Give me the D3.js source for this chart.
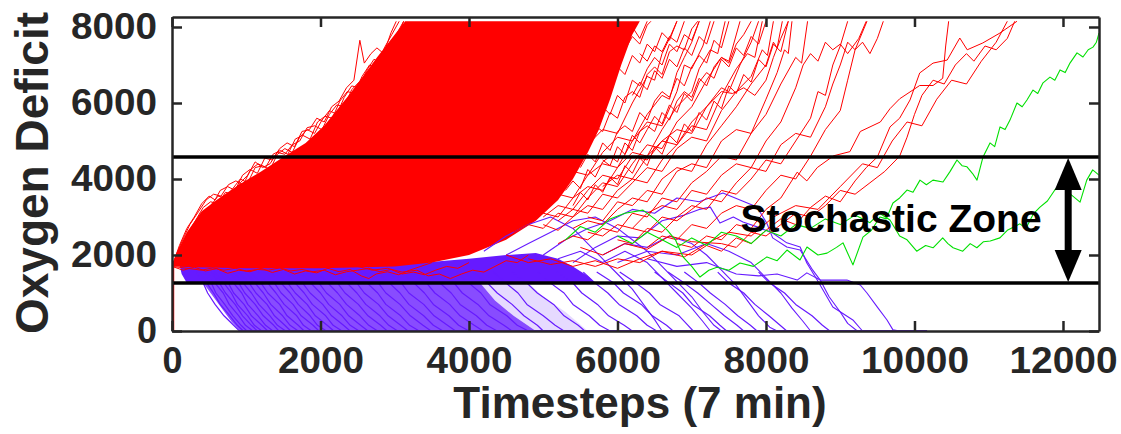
<!DOCTYPE html>
<html>
<head>
<meta charset="utf-8">
<script src="https://cdn.jsdelivr.net/npm/d3@7"></script>
<style>
  body { margin: 0; background: #fff; }
  svg { display: block; }
</style>
</head>
<body>
<svg id="chart" width="1121" height="434"></svg>
<script>
// ---- axis setup values ----
var xTicks = [0, 2000, 4000, 6000, 8000, 10000, 12000];
var yTicks = [0, 2000, 4000, 6000, 8000];
var zoneBounds = [4580, 1260];   // black threshold lines
var arrowT = 12070;              // timestep where the double arrow sits

// ---- red trajectories (hypoxic runaway) ----
// dense body of the red bundle, outline as [t, deficit]
var redCore = [[0,1700],[60,2050],[200,2600],[400,3150],[600,3450],[900,3850],[1200,4200],[1500,4580],[1800,4950],[2050,5400],[2400,6250],[2760,7200],[3140,8150],
  [6300,8150],[6200,7800],[6050,7000],[5900,6100],[5750,5300],[5600,4700],[5400,4000],[5200,3450],[4900,2900],[4500,2400],[4000,2000],[3500,1800],[3000,1700],[2000,1650],[1000,1650],[300,1680]];
var redStart = [[20,0],[20,1700]];
// strands on the upper edge of the bundle
var redUpper = [
  [[0,1700],[100,2250],[200,2700],[300,3000],[400,3350],[500,3550],[580,3450],[650,3700],[750,3800],[850,3700],[950,4100],[1050,4250],[1150,4150],[1250,4550],[1350,4500],[1450,4800],[1550,4950],[1650,4850],[1750,5250],[1850,5300],[1950,5600],[2050,5500],[2150,5900],[2250,6050],[2350,6400],[2450,6600],[2530,7650],[2590,7050],[2680,7300],[2760,7450],[2850,7300],[2950,7850],[3020,8150]],
  [[0,1700],[120,2300],[240,2800],[360,3150],[460,3450],[560,3600],[660,3550],[760,3850],[860,3950],[960,3850],[1060,4250],[1160,4400],[1260,4300],[1360,4650],[1460,4750],[1560,4650],[1660,5050],[1760,5150],[1860,5050],[1960,5500],[2060,5650],[2160,5600],[2260,6050],[2360,6300],[2460,6250],[2560,6700],[2660,7000],[2760,6900],[2860,7450],[2960,7800],[3060,8150]],
  [[0,1750],[150,2200],[280,2600],[400,2900],[520,3300],[620,3550],[720,3500],[820,3750],[920,4000],[1020,3900],[1120,4300],[1220,4350],[1320,4250],[1420,4650],[1520,4800],[1620,4700],[1720,5100],[1820,5300],[1920,5200],[2020,5550],[2120,5800],[2220,5700],[2320,6150],[2420,6450],[2520,6400],[2620,6850],[2720,7150],[2820,7050],[2920,7550],[3020,7800],[3120,8150]],
  [[0,1700],[80,2000],[180,2450],[300,2850],[420,3250],[520,3400],[620,3350],[720,3650],[820,3600],[920,3900],[1020,4100],[1120,4450],[1220,4300],[1320,4400],[1420,4700],[1520,4650],[1620,4900],[1720,5000],[1820,5350],[1920,5400],[2020,5300],[2120,5700],[2220,5950],[2320,5900],[2420,6350],[2520,6550],[2620,6500],[2720,6950],[2820,7300],[2920,7250],[3020,7650],[3120,8150]]
];
// strands on the lower edge of the bundle
var redLower = [
  [[0,1700],[150,1600],[300,1680],[450,1580],[600,1640],[750,1520],[900,1600],[1050,1560],[1200,1650],[1350,1540],[1500,1620],[1650,1500],[1800,1580],[1950,1530],[2100,1650],[2250,1560],[2400,1620],[2550,1450],[2650,1380],[2750,1500],[2900,1560],[3050,1480],[3200,1600],[3350,1700],[3500,1800]],
  [[0,1700],[200,1650],[400,1600],[550,1660],[700,1600],[850,1650],[1000,1580],[1150,1620],[1300,1600],[1450,1660],[1600,1580],[1750,1620],[1900,1560],[2050,1600],[2200,1480],[2350,1560],[2500,1600],[2650,1650],[2800,1560],[2950,1620],[3100,1500],[3250,1550],[3400,1480],[3550,1600],[3700,1700],[3850,1650],[4000,1800]],
  [[2500,1700],[2700,1600],[2900,1650],[3100,1550],[3300,1600],[3450,1450],[3600,1500],[3750,1380],[3900,1500],[4050,1600],[4200,1550],[4350,1700],[4500,1850],[4650,1800],[4800,2000]]
];
// strands fraying off the right edge of the bundle
var redFray = [
  [[5600,5000],[5700,5400],[5800,5250],[5900,5750],[6000,5600],[6100,6150],[6200,6300],[6300,6150],[6400,6750],[6500,6950],[6600,6750],[6700,7350],[6800,7500],[6900,7400],[7000,7950],[7080,8150]],
  [[5900,6500],[6000,6950],[6100,6750],[6200,7250],[6300,7050],[6400,7550],[6500,7350],[6600,7850],[6700,7650],[6800,8150]],
  [[5500,4300],[5600,4650],[5700,4450],[5800,4950],[5900,4750],[6000,5250],[6100,5400],[6200,5250],[6300,5750],[6400,5550],[6500,6050],[6600,6300],[6700,6150],[6800,6650],[6900,6450],[7000,6950],[7100,7250],[7200,7050],[7300,7650],[7400,7450],[7500,8150]],
  [[5300,3700],[5400,3950],[5500,3750],[5600,4250],[5700,4050],[5800,4450],[5900,4600],[6000,4450],[6100,4950],[6200,4750],[6300,5250],[6400,5400],[6500,5250],[6600,5750],[6700,5550],[6800,6050],[6900,6300],[7000,6150],[7100,6650],[7200,6450],[7300,6950],[7400,7200],[7500,7050],[7600,7550],[7700,7800],[7800,8150]],
  [[6100,7400],[6200,7750],[6300,7550],[6400,8050],[6450,8150]],
  [[5800,4500],[5900,4350],[6000,4850],[6100,4650],[6200,5150],[6300,4950],[6400,5300],[6500,5650],[6600,5450],[6700,5950],[6800,5750],[6900,6250],[7000,6050],[7100,6550],[7200,6800],[7300,6650],[7400,7150],[7500,6950],[7600,7450],[7700,7250],[7800,7750],[7900,7550],[8000,8150]],
  [[6200,6200],[6300,6550],[6400,6350],[6500,6850],[6600,6650],[6700,7150],[6800,6950],[6900,7450],[7000,7250],[7100,7750],[7200,7550],[7300,8150]],
  [[5400,3300],[5500,3650],[5600,3450],[5700,3850],[5800,3650],[5900,4050],[6000,3850],[6100,4350],[6200,4150],[6300,4550],[6400,4350],[6500,4850],[6600,4650],[6700,5150],[6800,4950],[6900,5450],[7000,5250],[7100,5750],[7200,5550],[7300,6050],[7400,5850],[7500,6450],[7600,6250],[7700,6750],[7800,6550],[7900,7150],[8000,6950],[8100,7550],[8200,7350],[8300,8150]],
  [[6000,7800],[6100,7600],[6200,8000],[6300,7700],[6400,8150]],
  [[6300,7300],[6400,7100],[6500,7500],[6600,7350],[6700,7750],[6800,7600],[6900,8150]],
  [[5700,5600],[5800,5900],[5900,5700],[6000,6200],[6100,6000],[6200,6600],[6300,6450],[6400,6900],[6500,7200],[6600,7000],[6700,7550],[6800,7350],[6900,7800],[7000,7650],[7100,8150]]
];
// strands fanning out further right
var redFan = [
  [[4400,3300],[4600,3700],[4800,3600],[5000,4100],[5200,4400],[5400,4300],[5600,4900],[5800,5300],[6000,5200],[6200,6000],[6400,6700],[6500,6600],[6600,7300],[6700,7700],[6800,8150]],
  [[4600,3200],[4800,3500],[5000,3400],[5200,3900],[5400,4200],[5600,4100],[5800,4700],[6000,5100],[6200,5000],[6400,5700],[6600,6200],[6700,6100],[6800,6800],[6900,7200],[7000,7600],[7100,8150]],
  [[5000,3300],[5200,3600],[5400,3500],[5600,4100],[5800,4400],[6000,4300],[6200,5000],[6400,5500],[6600,5400],[6800,6300],[6900,7000],[7000,6900],[7150,7500],[7250,8150]],
  [[4800,2900],[5000,3100],[5200,3000],[5400,3500],[5600,3800],[5800,3700],[6000,4300],[6200,4700],[6400,4600],[6600,5300],[6800,5900],[7000,6300],[7100,6900],[7250,7400],[7350,7300],[7450,8150]],
  [[4600,2600],[4800,2800],[5000,2700],[5200,3100],[5400,3000],[5600,3500],[5800,3900],[6000,3800],[6200,4400],[6400,4900],[6600,4800],[6800,5500],[7000,5900],[7200,6600],[7400,7200],[7500,7100],[7650,8150]],
  [[5000,3000],[5200,3300],[5400,3200],[5600,3700],[5800,4100],[6000,4000],[6200,4600],[6400,4500],[6600,5000],[6800,5300],[7000,5200],[7200,5900],[7400,6400],[7500,6300],[7650,7000],[7800,7600],[7900,8150]],
  [[5000,2800],[5200,2650],[5400,3000],[5600,3300],[5800,3200],[6000,3700],[6200,4000],[6400,3900],[6600,4500],[6800,4900],[7000,5400],[7200,5300],[7400,6200],[7600,6900],[7750,7300],[7850,7200],[7950,8150]],
  [[5200,2900],[5400,3200],[5600,3100],[5800,3600],[6000,3500],[6200,3900],[6400,4300],[6600,4200],[6800,4800],[7000,5100],[7200,5000],[7400,5800],[7600,6300],[7800,6700],[7950,7400],[8020,7250],[8100,8150]],
  [[5400,2700],[5600,2900],[5800,2800],[6000,3200],[6200,3500],[6400,3400],[6600,4000],[6800,4300],[7000,4200],[7200,4900],[7400,5400],[7600,5900],[7800,6500],[8000,7000],[8100,7600],[8150,7450],[8220,8150]],
  [[5800,3800],[6000,4100],[6200,4000],[6400,4600],[6600,5000],[6800,4900],[7000,5500],[7200,5900],[7400,6300],[7550,6250],[7700,6400],[7850,6200],[8000,6600],[8100,7200],[8200,7700],[8300,8150]],
  [[5600,3000],[5800,2900],[6000,3400],[6200,3300],[6400,3700],[6600,3600],[6800,4200],[7000,4400],[7200,4300],[7400,5000],[7600,5300],[7800,5200],[8000,6100],[8150,6800],[8250,7400],[8300,7300],[8350,8150]],
  [[5200,2300],[5400,2500],[5600,2400],[5800,2700],[6000,2600],[6200,3100],[6400,3000],[6600,3500],[6800,3400],[7000,3900],[7200,4200],[7400,4600],[7600,4500],[7800,5200],[8000,5700],[8200,6500],[8400,7200],[8480,7050],[8560,8150]],
  [[5600,2600],[5800,2500],[6000,2800],[6200,2700],[6400,3100],[6600,3300],[6800,3200],[7000,3700],[7200,3600],[7400,4100],[7600,4400],[7800,4300],[8000,5000],[8200,5500],[8400,6400],[8500,7000],[8600,7300],[8700,7100],[8800,7600],[8900,7400],[9000,7550],[9100,7300],[9250,7700],[9350,8150]],
  [[6000,2400],[6200,2300],[6400,2700],[6600,2600],[6800,3000],[7000,3300],[7200,3200],[7400,3700],[7600,3600],[7800,4000],[8000,4500],[8200,4400],[8400,5000],[8600,5600],[8700,6300],[8800,6200],[8900,7000],[9000,7500],[9100,8150]],
  [[6200,2700],[6400,2600],[6600,3000],[6800,2900],[7000,3200],[7200,3500],[7400,3400],[7600,3900],[7800,4300],[8000,4200],[8200,4900],[8400,5200],[8600,5100],[8800,5900],[8900,6500],[9000,7000],[9100,7600],[9200,7400],[9360,8150]],
  [[6400,2200],[6600,2500],[6800,2400],[7000,2800],[7200,2700],[7400,3100],[7600,3300],[7800,3200],[8000,3700],[8200,4100],[8400,4000],[8600,4600],[8800,5300],[9000,5800],[9100,6600],[9200,7400],[9300,7600],[9400,7300],[9500,7700],[9580,8150]],
  [[6800,2300],[7000,2200],[7200,2500],[7400,2400],[7600,2800],[7800,2700],[8000,3200],[8200,3500],[8420,4180],[8550,3950],[8690,4300],[8910,4610],[9130,4720],[9270,5250],[9540,5500],[9670,5850],[9800,6110],[10070,6460],[10250,6460],[10380,6650],[10420,7500],[10460,8150]],
  [[4800,1900],[5100,1750],[5400,1850],[5700,1700],[6000,1900],[6300,1800],[6600,2100],[7000,2000],[7200,2250],[7400,2100],[7600,2450],[7800,2300],[8000,2650],[8200,2950],[8400,2800],[8600,3250],[8800,3550],[9000,3400],[9200,3950],[9350,4300],[9500,4580],[9670,5370],[9800,5600],[9940,6080],[10070,6790],[10250,7050],[10440,7130],[10610,7710],[10710,7400],[10920,7580],[11150,7840],[11380,8150]],
  [[5500,2200],[5800,2000],[6100,2300],[6400,2150],[6700,2500],[7000,2350],[7400,2300],[7600,2200],[7800,2600],[8000,2500],[8200,2800],[8400,3100],[8600,3000],[8800,3300],[9000,3700],[9200,3600],[9400,3900],[9600,4200],[9800,4600],[9900,5100],[10000,5700],[10100,6200],[10250,6600],[10400,6500],[10550,7000],[10700,7300],[10800,7100],[10950,7500],[11100,7400],[11250,7700],[11350,8150]],
  [[4500,2000],[4800,1800],[5100,1900],[5400,1700],[5700,1850],[6000,1650],[6300,1900],[6600,2100],[6900,1950],[7200,2300],[7500,2600],[7800,2500],[8100,3000],[8400,3300],[8700,3200],[9000,3800],[9300,4400],[9500,4300],[9700,5000],[9900,5500],[10100,5400],[10300,6100],[10500,6600],[10700,6500],[10900,7100],[11100,7600],[11250,8150]]
];

// ---- blue trajectories (recovery to zero) ----
var blueBand = [[100,1750],[600,1750],[1200,1720],[2000,1720],[2800,1750],[3400,1800],[4000,1900],[4500,2000],[4900,2050],[5200,1900],[5400,1700],[5600,1450],[5700,1260],[200,1260],[130,1500]];
var blueDense = [[420,1260],[500,1050],[650,650],[800,250],[920,0],[4900,0],[4600,400],[4350,800],[4150,1260]];
var blueFringe = [[4150,1260],[4350,800],[4600,400],[4900,0],[5600,0],[5300,500],[5000,900],[4800,1260]];
var blueFloor = [[900,0],[10170,0]];
// each drop: timestep at which the run passes these deficit levels
var blueLevels = [1550, 1260, 1000, 700, 400, 150, 0];
var blueDrops = [
  [330,420,480,580,700,830,910],[380,470,560,650,780,880,960],[430,530,590,710,820,930,1010],
  [470,580,690,770,900,990,1090],[530,640,720,850,950,1070,1150],[570,700,800,880,1020,1110,1210],
  [640,760,830,970,1070,1210,1290],[690,830,940,1020,1160,1260,1360],[770,900,980,1120,1230,1370,1440],
  [830,960,1070,1170,1320,1420,1530],[900,1040,1130,1280,1380,1520,1600],[990,1120,1230,1330,1490,1590,1700],
  [1050,1200,1290,1450,1550,1700,1780],[1160,1290,1400,1510,1680,1770,1880],[1230,1380,1470,1630,1740,1900,1980],
  [1340,1470,1590,1700,1860,1960,2080],[1410,1560,1660,1820,1930,2090,2180],[1530,1660,1780,1890,2070,2170,2290],
  [1610,1760,1860,2030,2150,2310,2400],[1730,1870,2000,2110,2290,2400,2520],[1820,1980,2080,2260,2380,2540,2640],
  [1960,2100,2230,2350,2530,2650,2770],[2070,2230,2330,2510,2640,2810,2900],[2210,2360,2490,2610,2800,2920,3040],
  [2320,2490,2590,2780,2910,3080,3180],[2480,2630,2770,2880,3080,3200,3330],[2600,2780,2880,3070,3210,3380,3490],
  [2770,2930,3070,3190,3390,3520,3650],[2910,3090,3190,3390,3530,3710,3820],[3090,3260,3400,3520,3730,3860,4000],
  [3240,3430,3540,3740,3880,4070,4190],[3440,3610,3760,3880,4100,4240,4380],[3610,3800,3910,4120,4270,4470,4580],
  [3830,4000,4160,4280,4510,4650,4800],
  [4050,4250,4380,4580,4740,4920,5000],[4330,4500,4660,4780,5000,5160,5280],[4580,4780,4920,5140,5280,5470,5560],
  [4930,5100,5280,5400,5620,5760,5900],[5180,5400,5520,5730,5880,6090,6200],[5540,5700,5870,6020,6260,6400,6530],
  [5720,5950,6080,6320,6470,6660,6750],[6030,6250,6430,6570,6830,6950,7020],[6500,6700,6880,7010,7240,7380,7470],
  [6680,6900,7080,7260,7440,7610,7700],[6900,7100,7250,7450,7620,7790,7880],[7350,7500,7700,7850,8040,8190,8280],
  [7900,8050,8250,8400,8620,8760,8860]
];
// blue runs that wander into the stochastic zone before recovering
var blueZone = [
  [[5400,1800],[5700,2200],[6000,2500],[6300,2450],[6600,2900],[6900,3050],[7100,3200],[7250,3260],[7380,2840],[7560,3000],[7690,2870],[7880,2740],[8090,2580],[8280,2320],[8460,2210],[8550,1790],[8690,1340],[8900,630],[9170,290],[9300,0]],
  [[5000,2000],[5300,2400],[5600,2700],[5900,2900],[6200,3200],[6500,3100],[6800,3500],[7100,3400],[7420,3630],[7650,3450],[7880,3260],[8010,2840],[8090,2450],[8280,2210],[8460,2130],[8630,1600],[8730,1340],[8850,900],[9000,500],[9100,200],[9230,0]],
  [[6400,1900],[6800,1700],[7200,1800],[7600,1500],[7900,1450],[8150,1500],[8420,1340],[8550,1530],[8730,1340],[8900,1340],[9090,1340],[9270,1210],[9360,1000],[9500,630],[9630,290],[9710,30],[9800,0]],
  [[4500,2000],[4800,2300],[5100,2600],[5400,2900],[5700,3000],[6000,2700],[6200,2400],[6400,2100],[6600,1700],[6800,1300],[7000,900],[7150,500],[7300,150],[7400,0]],
  [[4200,2100],[4500,2500],[4800,2800],[5100,3000],[5400,2700],[5600,2300],[5800,1900],[6000,1500],[6200,1100],[6350,700],[6500,300],[6600,0]],
  [[5800,2000],[6100,2300],[6400,2200],[6700,2500],[7000,2300],[7200,2000],[7400,1600],[7600,1200],[7750,800],[7900,400],[8050,100],[8150,0]],
  [[5200,1900],[5500,2100],[5800,1800],[6100,2100],[6400,1800],[6600,1400],[6800,1000],[7000,600],[7150,250],[7250,0]],
  [[6000,1800],[6400,2100],[6800,2000],[7200,2300],[7500,2100],[7800,1800],[8000,1400],[8200,1000],[8350,600],[8500,250],[8600,0]]
];

// ---- green trajectories (still undecided at the end) ----
var greenRuns = [
  [[5300,2400],[5500,2750],[5700,2600],[5900,2950],[6100,3100],[6343,3180],[6500,2950],[6667,2660],[6780,2400],[6882,1950],[7000,1700],[7111,1420],[7230,1600],[7340,1680],[7500,1600],[7650,1790],[7830,1700],[8013,1950],[8150,1850],[8283,2130],[8458,1870],[8552,2210],[8700,2000],[8822,2050],[8950,2200],[9037,2320],[9171,1740],[9306,2470],[9420,2650],[9535,3000],[9620,2950],[9710,3370],[9800,3500],[9899,3710],[9980,3650],[10074,3970],[10160,3850],[10249,3970],[10384,3920],[10480,4200],[10572,4500],[10640,4350],[10707,4320],[10780,4150],[10842,3970],[10923,4580],[11017,4950],[11080,4850],[11152,5370],[11220,5300],[11286,5550],[11380,6000],[11450,5900],[11515,6080],[11596,6340],[11660,6250],[11731,6530],[11825,6680],[11890,6600],[11960,6870],[12030,6800],[12094,7050],[12189,7320],[12269,7210],[12340,7400],[12404,7470],[12450,7600],[12485,7840]],
  [[6000,2500],[6200,2300],[6400,2600],[6600,2400],[6800,2200],[7000,2450],[7200,2250],[7400,2600],[7600,2500],[7800,2300],[8000,2650],[8200,2500],[8400,2800],[8600,2700],[8800,2950],[9000,2800],[9200,3050],[9400,2850],[9530,3100],[9670,2920],[9800,2500],[9900,2400],[10030,2100],[10150,2250],[10250,2190],[10380,2450],[10450,2300],[10520,2190],[10650,2100],[10750,2300],[10840,2190],[10930,2350],[11020,2370],[11150,2450],[11250,2650],[11420,2820],[11500,2700],[11600,3080],[11690,3260],[11790,3420],[11890,3710],[12000,3920],[12100,3600],[12230,3390],[12320,3970],[12400,4240],[12485,4100]]
];

var RED = "#ff0000", BLUE = "#661aff", GREEN = "#00e000", AXIS = "#262626";
var FONT = "'Liberation Sans', Arial, Helvetica, sans-serif";

var svg = d3.select("#chart");
var x = d3.scaleLinear().domain([0, 12485]).range([172, 1099]);
var y = d3.scaleLinear().domain([0, 8263]).range([331, 17]);
var line = d3.line().x(d => x(d[0])).y(d => y(d[1]));

svg.append("defs").append("clipPath").attr("id", "plotClip")
  .append("rect").attr("x", 172).attr("y", 17).attr("width", 927).attr("height", 315);

var plot = svg.append("g").attr("clip-path", "url(#plotClip)");

function drawLines(data, color, width) {
  plot.append("g")
    .selectAll("path")
    .data(data)
    .join("path")
    .attr("d", line)
    .attr("fill", "none")
    .attr("stroke", color)
    .attr("stroke-width", width)
    .attr("stroke-linejoin", "round");
}

// blue first, it sits underneath the red bundle
plot.append("path").attr("d", line(blueBand) + "Z").attr("fill", BLUE);
plot.append("path").attr("d", line(blueDense) + "Z").attr("fill", BLUE).attr("fill-opacity", 0.78);
plot.append("path").attr("d", line(blueFringe) + "Z").attr("fill", BLUE).attr("fill-opacity", 0.16);
drawLines(blueDrops.map(row => row.map((t, i) => [t, blueLevels[i]])), BLUE, 1.2);
drawLines([blueFloor], BLUE, 2);

plot.append("path").attr("d", line(redCore) + "Z").attr("fill", RED);
drawLines([redStart], RED, 1.5);
drawLines(blueZone, BLUE, 1.1);
drawLines(redUpper, RED, 1);
drawLines(redLower, RED, 1);
drawLines(redFray, RED, 1);
drawLines(redFan, RED, 1);
drawLines(greenRuns, GREEN, 1.1);

// threshold lines of the stochastic zone
svg.append("g")
  .selectAll("line")
  .data(zoneBounds)
  .join("line")
  .attr("x1", x(0)).attr("x2", x(12485))
  .attr("y1", d => y(d)).attr("y2", d => y(d))
  .attr("stroke", "#000")
  .attr("stroke-width", 3.5);

// axes, box style with ticks pointing inward
function styleAxis(g) {
  g.select(".domain").attr("stroke", AXIS).attr("stroke-width", 2.5);
  g.selectAll(".tick line").attr("stroke", AXIS).attr("stroke-width", 2.5);
  g.selectAll("text")
    .attr("fill", AXIS)
    .style("font-family", FONT)
    .style("font-weight", "bold")
    .style("font-size", "36px")
    .attr("textLength", d => String(d).length * 22 - 2)
    .attr("lengthAdjust", "spacingAndGlyphs");
}

svg.append("g").attr("transform", "translate(0,331)")
  .call(d3.axisBottom(x).tickValues(xTicks).tickSize(-10).tickSizeOuter(0).tickPadding(16).tickFormat(d3.format("d")))
  .call(styleAxis);
svg.append("g").attr("transform", "translate(172,0)")
  .call(d3.axisLeft(y).tickValues(yTicks).tickSize(-10).tickSizeOuter(0).tickPadding(15).tickFormat(d3.format("d")))
  .call(styleAxis);
svg.append("g").attr("transform", "translate(0,17)")
  .call(d3.axisTop(x).tickValues(xTicks).tickSize(-10).tickSizeOuter(0).tickFormat(""))
  .call(styleAxis);
svg.append("g").attr("transform", "translate(1099,0)")
  .call(d3.axisRight(y).tickValues(yTicks).tickSize(-10).tickSizeOuter(0).tickFormat(""))
  .call(styleAxis);

// axis titles
svg.append("text")
  .attr("x", 640).attr("y", 418)
  .attr("text-anchor", "middle")
  .attr("fill", AXIS)
  .style("font-family", FONT).style("font-weight", "bold").style("font-size", "44px")
  .text("Timesteps (7 min)");

svg.append("text")
  .attr("transform", "translate(48,173) rotate(-90)")
  .attr("text-anchor", "middle")
  .attr("fill", AXIS)
  .style("font-family", FONT).style("font-weight", "bold").style("font-size", "46px")
  .text("Oxygen Deficit");

// double headed arrow across the zone
var ax = x(arrowT), yTop = y(zoneBounds[0]) + 1, yBot = y(zoneBounds[1]) - 1;
var headW = 13.5, headL = 32;
var arrow = svg.append("g").attr("fill", "#000");
arrow.append("rect").attr("x", ax - 3.5).attr("y", yTop + headL - 2).attr("width", 7).attr("height", yBot - yTop - 2 * headL + 4);
arrow.append("path").attr("d", `M${ax},${yTop} L${ax + headW},${yTop + headL} L${ax - headW},${yTop + headL} Z`);
arrow.append("path").attr("d", `M${ax},${yBot} L${ax + headW},${yBot - headL} L${ax - headW},${yBot - headL} Z`);

svg.append("text")
  .attr("x", 891).attr("y", 232)
  .attr("text-anchor", "middle")
  .attr("fill", "#000")
  .style("font-family", FONT).style("font-weight", "bold").style("font-size", "39px")
  .text("Stochastic Zone");
</script>
</body>
</html>
